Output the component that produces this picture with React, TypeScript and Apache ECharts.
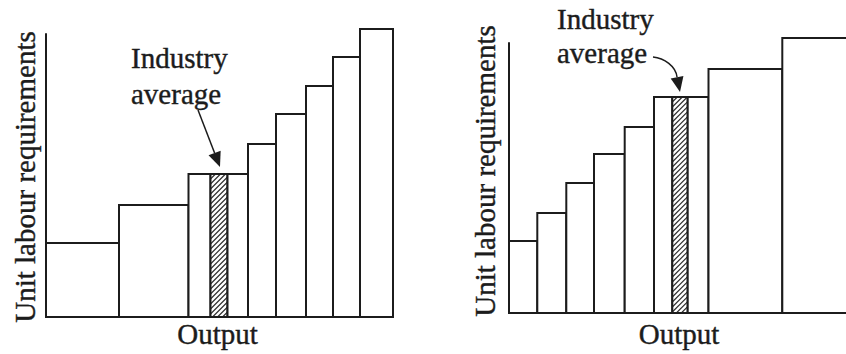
import React, { useEffect, useRef } from "react";
import * as echarts from "echarts";

// Left panel: output width of each firm/step and its unit labour requirement
const leftOutput = [73, 69.5, 22, 17, 20.5, 28, 30, 27, 27, 33];
const leftULR = [74, 112, 143, 143, 143, 173, 203, 231, 260, 288];
const leftAverageIndex = 3;
const leftYMax = 283;

// Right panel
const rightOutput = [28.3, 29, 27.7, 30.7, 29.3, 18.3, 15.4, 20.8, 73.8, 74.7];
const rightULR = [72, 100, 130, 159, 186, 216, 216, 216, 244, 275];
const rightAverageIndex = 6;
const rightYMax = 270;

const yTitle = "Unit labour requirements";
const xTitle = "Output";
const annotationLines = ["Industry", "average"];

const INK = "#1c1c1c";
const FONT_FAMILY = "'Liberation Serif', 'Times New Roman', serif";

function buildSteps(widths: number[], heights: number[], avgIdx: number) {
  let acc = 0;
  return widths.map((w, i) => {
    const x0 = acc;
    acc += w;
    return [x0, acc, heights[i], i === avgIdx ? 1 : 0];
  });
}

const sum = (a: number[]) => a.reduce((s, v) => s + v, 0);

function renderStep(params: any, api: any) {
  const x0 = api.value(0);
  const x1 = api.value(1);
  const h = api.value(2);
  const hatch = api.value(3);
  const pb = api.coord([x0, 0]);
  const pt = api.coord([x1, h]);
  const rx = pb[0];
  const ry = pt[1];
  const w = pt[0] - pb[0];
  const hh = pb[1] - pt[1];
  const children: any[] = [
    {
      type: "rect",
      shape: { x: rx, y: ry, width: w, height: hh },
      style: { fill: "#fff", stroke: "none" },
    },
  ];
  if (hatch) {
    const s = 5;
    for (let k = 1; k * s < w + hh; k++) {
      const c = k * s;
      const ta = Math.max(0, c - hh);
      const tb = Math.min(w, c);
      if (tb <= ta) continue;
      children.push({
        type: "line",
        shape: { x1: rx + ta, y1: ry + c - ta, x2: rx + tb, y2: ry + c - tb },
        style: { stroke: "#2a2a2a", lineWidth: 1.1 },
      });
    }
  }
  children.push({
    type: "rect",
    shape: { x: rx, y: ry, width: w, height: hh },
    style: { fill: "none", stroke: INK, lineWidth: 2 },
  });
  return { type: "group", children };
}

function axisPair(gridIndex: number, xMax: number, yMax: number) {
  const common = {
    gridIndex,
    axisTick: { show: false },
    axisLabel: { show: false },
    splitLine: { show: false },
    axisLine: { show: true, onZero: false, lineStyle: { color: INK, width: 2 } },
  };
  return {
    x: { ...common, type: "value", min: 0, max: xMax },
    y: { ...common, type: "value", min: 0, max: yMax },
  };
}

function arrowHead(tip: number[], dir: number[], len: number, hw: number) {
  const n = Math.hypot(dir[0], dir[1]);
  const dx = dir[0] / n;
  const dy = dir[1] / n;
  const bx = tip[0] - dx * len;
  const by = tip[1] - dy * len;
  return {
    base: [bx, by],
    points: [
      [tip[0], tip[1]],
      [bx - dy * hw, by + dx * hw],
      [bx + dy * hw, by - dx * hw],
    ],
  };
}

function text(str: string, x: number, y: number, align: string, rotation = 0) {
  return {
    type: "text",
    x,
    y,
    rotation,
    style: {
      text: str,
      fill: INK,
      fontSize: 29,
      fontFamily: FONT_FAMILY,
      textAlign: align,
      textVerticalAlign: "middle",
      align,
      verticalAlign: "middle",
      stroke: INK,
      lineWidth: 0.4,
    },
  };
}

export default function App() {
  const ref = useRef<HTMLDivElement>(null);
  useEffect(() => {
    if (!ref.current) return;
    const chart = echarts.init(ref.current, undefined, { renderer: "svg" });
    const leftData = buildSteps(leftOutput, leftULR, leftAverageIndex);
    const rightData = buildSteps(rightOutput, rightULR, rightAverageIndex);
    const la = axisPair(0, sum(leftOutput), leftYMax);
    const ra = axisPair(1, sum(rightOutput), rightYMax);
    chart.setOption({
      animation: false,
      grid: [
        { left: 46, top: 34, width: 347, height: 283, outerBoundsMode: "none", containLabel: false },
        { left: 509, top: 43, width: 348, height: 270, outerBoundsMode: "none", containLabel: false },
      ],
      xAxis: [la.x, ra.x],
      yAxis: [la.y, ra.y],
      series: [
        {
          type: "custom",
          xAxisIndex: 0,
          yAxisIndex: 0,
          clip: false,
          renderItem: renderStep,
          encode: { x: [0, 1], y: 2 },
          data: leftData,
          silent: true,
        },
        {
          type: "custom",
          xAxisIndex: 1,
          yAxisIndex: 1,
          clip: false,
          renderItem: renderStep,
          encode: { x: [0, 1], y: 2 },
          data: rightData,
          silent: true,
        },
      ],
    });

    // annotation arrow tips anchored to the industry-average bars
    const lAvg = leftData[leftAverageIndex];
    const rAvg = rightData[rightAverageIndex];
    const lTop = chart.convertToPixel({ xAxisIndex: 0, yAxisIndex: 0 }, [
      (lAvg[0] + lAvg[1]) / 2,
      lAvg[2],
    ]) as number[];
    const rTop = chart.convertToPixel({ xAxisIndex: 1, yAxisIndex: 1 }, [
      (rAvg[0] + rAvg[1]) / 2,
      rAvg[2],
    ]) as number[];

    const lTip = [lTop[0] + 1, lTop[1] - 7];
    const lTail = [lTip[0] - 22, lTip[1] - 57];
    const lHead = arrowHead(lTip, [lTip[0] - lTail[0], lTip[1] - lTail[1]], 15, 6.5);

    const rTip = [rTop[0], rTop[1] - 5];
    const rHead = arrowHead(rTip, [3, 15], 15, 6.5);
    const rStart = [rTip[0] - 27, rTip[1] - 35];

    chart.setOption({
      graphic: [
        text(yTitle, 25, 177, "center", Math.PI / 2),
        text(yTitle, 485, 171, "center", Math.PI / 2),
        text(xTitle, 217.5, 334, "center"),
        text(xTitle, 679, 334, "center"),
        text(annotationLines[0], 131, 58, "left"),
        text(annotationLines[1], 131, 94, "left"),
        text(annotationLines[0], 557, 19, "left"),
        text(annotationLines[1], 557, 53, "left"),
        {
          type: "line",
          shape: { x1: lTail[0], y1: lTail[1], x2: lHead.base[0], y2: lHead.base[1] },
          style: { stroke: INK, lineWidth: 1.5 },
        },
        { type: "polygon", shape: { points: lHead.points }, style: { fill: INK } },
        {
          type: "bezierCurve",
          shape: {
            x1: rStart[0],
            y1: rStart[1],
            cpx1: rStart[0] + 11,
            cpy1: rStart[1] + 1,
            cpx2: rHead.base[0] - 1,
            cpy2: rHead.base[1] - 11,
            x2: rHead.base[0],
            y2: rHead.base[1],
          },
          style: { stroke: INK, lineWidth: 1.5, fill: "none" },
        },
        { type: "polygon", shape: { points: rHead.points }, style: { fill: INK } },
      ],
    });

    return () => chart.dispose();
  }, []);
  return (
    <div
      ref={ref}
      style={{ position: "fixed", left: 0, top: 0, width: 846, height: 354, background: "#fff" }}
    />
  );
}
